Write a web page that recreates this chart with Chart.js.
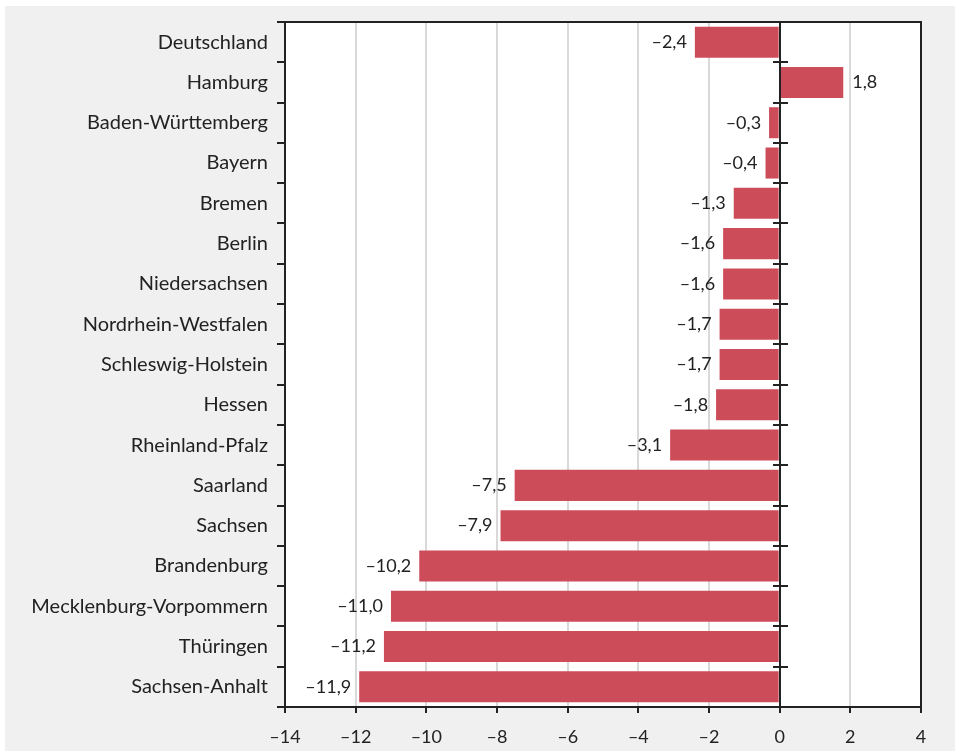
<!DOCTYPE html>
<html>
<head>
<meta charset="utf-8">
<script src="https://cdn.jsdelivr.net/npm/chart.js@4"></script>
<style>
  body { margin: 0; background: #fff; }
  canvas { position: absolute; left: 0; top: 0; }
</style>
</head>
<body>
<canvas id="chart" width="955" height="751"></canvas>
<script>
const categories = ["Deutschland", "Hamburg", "Baden-Württemberg", "Bayern", "Bremen", "Berlin",
  "Niedersachsen", "Nordrhein-Westfalen", "Schleswig-Holstein", "Hessen", "Rheinland-Pfalz",
  "Saarland", "Sachsen", "Brandenburg", "Mecklenburg-Vorpommern", "Thüringen", "Sachsen-Anhalt"];
const values = [-2.4, 1.8, -0.3, -0.4, -1.3, -1.6, -1.6, -1.7, -1.7, -1.8, -3.1, -7.5, -7.9, -10.2, -11.0, -11.2, -11.9];
const xMin = -14, xMax = 4, xStep = 2;

const FONT = "Lato, 'Open Sans', sans-serif";
const INK = '#222';

function fmt(v, digits) {
  const s = Math.abs(v).toFixed(digits).replace('.', ',');
  return v < 0 ? '\u2013' + s : s;
}

// grey page + white plot + frame, zero line, value labels
const decor = {
  id: 'decor',
  beforeDraw(chart) {
    const { ctx, chartArea: a } = chart;
    ctx.save();
    ctx.fillStyle = '#f0f0f0';
    ctx.fillRect(5, 6, chart.width - 5, chart.height - 6);
    ctx.fillStyle = '#fff';
    ctx.fillRect(a.left, a.top, a.right - a.left, a.bottom - a.top);
    ctx.restore();
  },
  afterDatasetsDraw(chart) {
    const { ctx, chartArea: a, scales: { x, y } } = chart;
    ctx.save();
    // value labels
    ctx.font = '18px ' + FONT;
    ctx.fillStyle = INK;
    ctx.textBaseline = 'middle';
    chart.getDatasetMeta(0).data.forEach((bar, i) => {
      const v = values[i];
      if (v < 0) { ctx.textAlign = 'right'; ctx.fillText(fmt(v, 1), bar.x - 8, bar.y); }
      else { ctx.textAlign = 'left'; ctx.fillText(fmt(v, 1), bar.x + 9, bar.y); }
    });
    // zero line with cross ticks
    const x0 = Math.round(x.getPixelForValue(0));
    ctx.strokeStyle = INK;
    ctx.lineWidth = 2;
    ctx.beginPath();
    ctx.moveTo(x0, a.top); ctx.lineTo(x0, a.bottom);
    const step = (a.bottom - a.top) / categories.length;
    for (let i = 1; i < categories.length; i++) {
      const yy = Math.round(a.top + i * step);
      ctx.moveTo(x0 - 7, yy); ctx.lineTo(x0 + 8, yy);
    }
    ctx.stroke();
    // frame
    ctx.strokeRect(a.left, a.top, a.right - a.left, a.bottom - a.top);
    ctx.restore();
  }
};

new Chart(document.getElementById('chart'), {
  type: 'bar',
  data: {
    labels: categories,
    datasets: [{
      data: values,
      backgroundColor: 'rgb(204,76,89)',
      borderWidth: 0,
      barPercentage: 0.77,
      categoryPercentage: 1
    }]
  },
  options: {
    indexAxis: 'y',
    responsive: false,
    animation: false,
    layout: { padding: { top: 22, right: 34, left: 0, bottom: 0 } },
    plugins: { legend: { display: false }, tooltip: { enabled: false } },
    scales: {
      x: {
        min: xMin, max: xMax,
        afterFit(s) { s.height = 44; },
        ticks: {
          stepSize: xStep,
          color: INK,
          font: { size: 18, family: FONT },
          padding: 13,
          callback: v => fmt(v, 0)
        },
        grid: {
          color: '#d9d9d9', lineWidth: 2,
          tickColor: INK, tickLength: 6
        },
        border: { color: INK, width: 2 }
      },
      y: {
        afterFit(s) { s.width = 285; },
        ticks: {
          color: INK,
          font: { size: 20, family: FONT },
          padding: 9
        },
        grid: {
          offset: true, drawOnChartArea: false,
          tickColor: INK, tickLength: 8, lineWidth: 2
        },
        border: { color: INK, width: 2 }
      }
    }
  },
  plugins: [decor]
});
</script>
</body>
</html>
